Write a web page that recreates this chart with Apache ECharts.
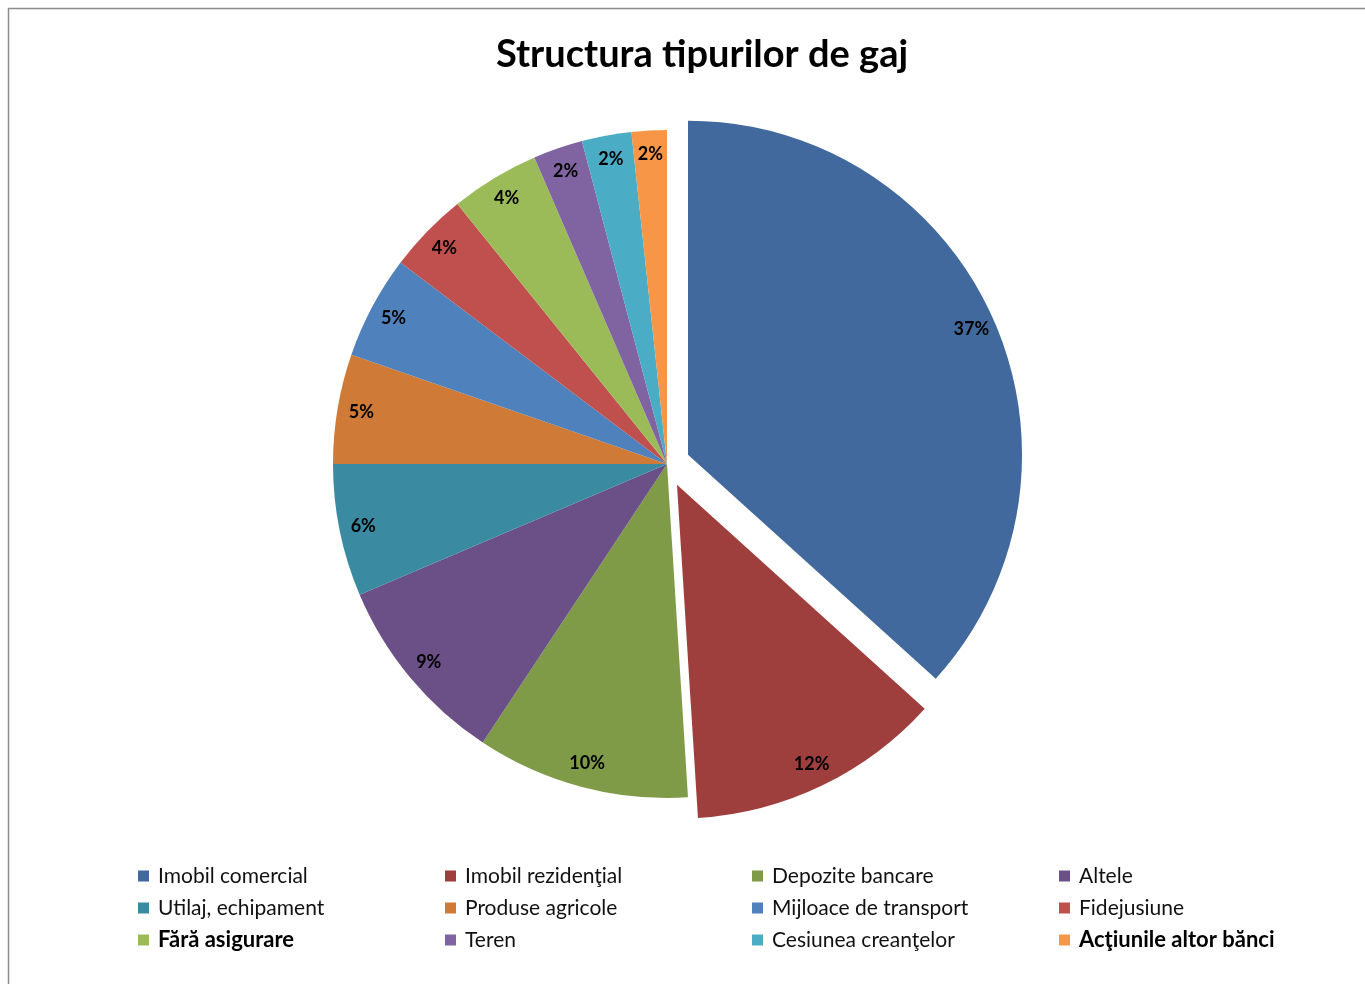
<!DOCTYPE html>
<html>
<head>
<meta charset="utf-8">
<script src="https://cdn.jsdelivr.net/npm/echarts@6/dist/echarts.min.js"></script>
<style>
    html, body { margin: 0; padding: 0; background: #fff; }
    #chart { width: 1365px; height: 984px; }
</style>
</head>
<body>
<div id="chart"></div>
<script>
const categories = [
    'Imobil comercial', 'Imobil rezidenţial', 'Depozite bancare', 'Altele',
    'Utilaj, echipament', 'Produse agricole', 'Mijloace de transport', 'Fidejusiune',
    'Fără asigurare', 'Teren', 'Cesiunea creanţelor', 'Acţiunile altor bănci'
]
const shares = [36.7, 12.3, 10.3, 9.3, 6.4, 5.3, 5.0, 3.9, 4.3, 2.4, 2.4, 1.7]
const exploded = ['Imobil comercial', 'Imobil rezidenţial']
const boldLegend = ['Fără asigurare', 'Acţiunile altor bănci']

const sliceColors = [
    '#41699d', '#9e3f3d', '#7f9b48', '#6a5087', '#3a8ba1', '#cf7b37',
    '#4f81bd', '#c0504d', '#9bbb59', '#8064a2', '#4bacc6', '#f79646'
]

const fontFamily = 'Lato, "Open Sans", sans-serif'
const center = [667, 464]
const radius = 334

const pieData = categories.map((name, i) => ({
    name,
    value: shares[i],
    selected: exploded.indexOf(name) >= 0,
    itemStyle: { color: sliceColors[i] }
}))

const chart = echarts.init(document.getElementById('chart'))
chart.setOption({
    animation: false,
    title: {
        text: 'Structura tipurilor de gaj',
        left: 697,
        top: 31,
        textAlign: 'center',
        textStyle: { fontFamily, fontSize: 38, fontWeight: 'bold', color: '#000' }
    },
    graphic: [{
        type: 'rect',
        shape: { x: 8.5, y: 8.5, width: 1400, height: 1000 },
        style: { fill: 'none', stroke: '#8c8c8c', lineWidth: 1.5 },
        silent: true
    }],
    legend: {
        data: categories,
        left: 133,
        top: 855,
        width: 1235,
        icon: 'rect',
        itemWidth: 11,
        itemHeight: 11,
        itemGap: 0,
        selectedMode: false,
        formatter: name => boldLegend.indexOf(name) >= 0 ? '{b|' + name + '}' : name,
        textStyle: {
            fontFamily,
            fontSize: 21,
            color: '#111',
            width: 287,
            height: 32,
            lineHeight: 32,
            padding: [0, 0, 0, 4],
            rich: {
                b: { fontFamily, fontSize: 22, fontWeight: 'bold', color: '#000' }
            }
        }
    },
    series: [
        {
            type: 'pie',
            center,
            radius: [0, radius],
            startAngle: 90,
            selectedMode: 'multiple',
            selectedOffset: 23,
            silent: true,
            label: { show: false },
            labelLine: { show: false },
            itemStyle: { borderWidth: 0 },
            emphasis: { disabled: true },
            data: pieData
        },
        {
            // label layer: puts the percentages near the rim like the original
            type: 'pie',
            center,
            radius: [280, radius],
            startAngle: 90,
            selectedMode: 'multiple',
            selectedOffset: 23,
            silent: true,
            itemStyle: { color: 'rgba(0,0,0,0)', borderWidth: 0 },
            emphasis: { disabled: true },
            labelLine: { show: false },
            label: {
                show: true,
                position: 'inside',
                formatter: p => Math.round(p.value) + '%',
                fontFamily,
                fontSize: 18,
                fontWeight: 'bold',
                color: '#000'
            },
            data: categories.map((name, i) => ({
                name,
                value: shares[i],
                selected: exploded.indexOf(name) >= 0
            }))
        }
    ]
})
</script>
</body>
</html>
